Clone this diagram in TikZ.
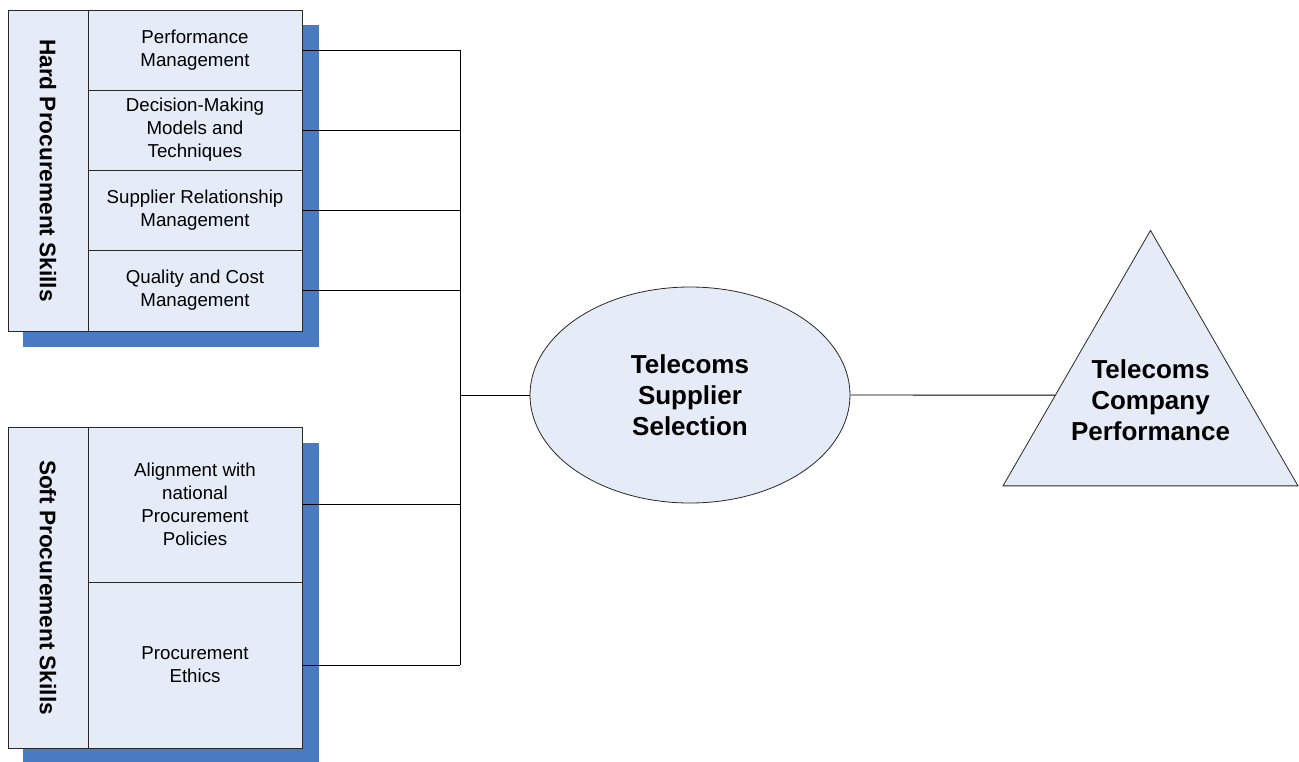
\documentclass[tikz,border=0pt]{standalone}
\usepackage{fontspec}
\setmainfont{Liberation Sans}
\usetikzlibrary{calc}
\usetikzlibrary{shapes.geometric}
\definecolor{boxfill}{RGB}{230,236,247}
\definecolor{shadowblue}{RGB}{74,123,194}
\definecolor{edge}{RGB}{40,40,40}
\begin{document}
\begin{tikzpicture}[x=1pt, y=-1pt,
    skillbox/.style={draw=edge, fill=boxfill, line width=1pt, inner sep=0pt, minimum width=214pt, align=center, font=\fontsize{18.7}{23}\selectfont},
    groupbox/.style={draw=edge, fill=boxfill, line width=1pt, inner sep=0pt, rotate=-90, minimum width=321pt, minimum height=80pt, font=\fontsize{22.6}{27}\selectfont\bfseries},
    bigshape/.style={draw=edge, fill=boxfill, line width=0.8pt, inner sep=0pt},
    bigtext/.style={align=center, font=\fontsize{26}{31}\selectfont\bfseries},
    link/.style={draw=black, line width=0.9pt}]
        \useasboundingbox (0,0) rectangle (1299,761);

        % shadows behind the two skill groups
        \fill[shadowblue] (23,25) rectangle (319,347);
        \fill[shadowblue] (23,443) rectangle (319,765);

        % hard skills
        \node[groupbox] (hard) at (48,170.5) {Hard Procurement Skills};
        \node[skillbox, minimum height=80pt] (perf) at (195,50) {Performance\\Management};
        \node[skillbox, minimum height=80pt] (dec) at (195,130) {Decision-Making\\Models and\\Techniques};
        \node[skillbox, minimum height=80pt] (rel) at (195,210) {Supplier Relationship\\Management};
        \node[skillbox, minimum height=81pt] (qual) at (195,290.5) {Quality and Cost\\Management};

        % soft skills
        \node[groupbox] (soft) at (48,587.5) {Soft Procurement Skills};
        \node[skillbox, minimum height=155pt] (align) at (195,504.5) {Alignment with\\national\\Procurement\\Policies};
        \node[skillbox, minimum height=166pt] (ethics) at (195,665) {Procurement\\Ethics};

        % selection and performance
        \node[bigshape, ellipse, minimum width=320pt, minimum height=216pt, bigtext] (sel) at (690,395) {Telecoms\\Supplier\\Selection};
        \node[bigshape, regular polygon, regular polygon sides=3, minimum size=340.6pt] (comp) at (1150.5,400.7) {};
        \node[bigtext] (comptext) at (1150.5,400) {Telecoms\\Company\\Performance};

        % connectors
        \coordinate (bustop) at (460,50);
        \coordinate (busbot) at (460,665);
        \draw[link] (bustop) -- (busbot);
        \foreach \n in {perf,dec,rel,qual,align,ethics} {
            \draw[link] (\n.east) -- (\n.east -| bustop);
        }
        \draw[link] (sel.west) -- (sel.west -| bustop);
        \draw[link] (sel.east) -- ($(comp.corner 1)!0.645!(comp.corner 2)$);

    \end{tikzpicture}
\end{document}
